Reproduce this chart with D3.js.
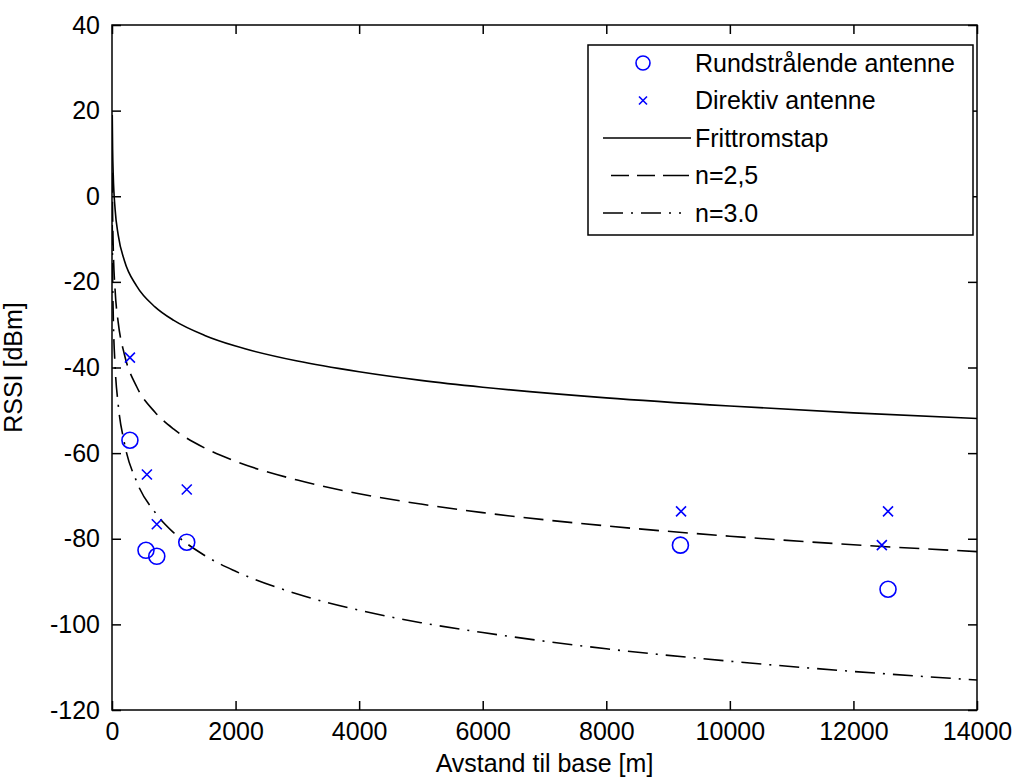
<!DOCTYPE html>
<html>
<head>
<meta charset="utf-8">
<script src="https://cdn.jsdelivr.net/npm/d3@7"></script>
<style>
  body { margin: 0; background: #fff; }
  text { font-family: "Liberation Sans", Arial, sans-serif; fill: #000; }
</style>
</head>
<body>
<div id="chart"></div>
<script>
// distances (m) and read curve values (dBm)
var distances  = [4, 10, 20, 50, 100, 200, 400, 700, 1000, 1500, 2000, 3000, 4000, 5000, 6000, 8000, 10000, 12000, 14000];
var frittrom   = [19, 11, 5, -3, -9, -15, -21, -25.9, -29, -32.5, -35, -38.5, -41, -43, -44.6, -47.1, -49, -50.6, -51.9];
var n25        = [5.5, -4.4, -11.9, -21.9, -29.4, -36.9, -44.5, -50.5, -54.4, -58.8, -61.9, -66.3, -69.5, -71.9, -73.9, -77, -79.4, -81.4, -83];
var n30        = [-6.7, -18.6, -27.6, -39.6, -48.6, -57.6, -66.7, -73.9, -78.6, -83.9, -87.6, -92.9, -96.7, -99.6, -101.9, -105.7, -108.6, -111, -113];

// measurements
var rundX = [290, 550, 725, 1210, 9200, 12560];
var rundY = [-57, -82.7, -84.1, -80.8, -81.5, -91.8];
var dirX  = [290, 565, 725, 1210, 9210, 12560, 12460];
var dirY  = [-37.7, -65, -76.6, -68.5, -73.6, -73.6, -81.5];

var xTicks = [0, 2000, 4000, 6000, 8000, 10000, 12000, 14000];
var yTicks = [-120, -100, -80, -60, -40, -20, 0, 20, 40];

var margin = {top: 25, right: 42, bottom: 70, left: 112},
    width = 1019 - margin.left - margin.right,
    height = 780 - margin.top - margin.bottom;

var svg = d3.select("#chart")
  .append("svg")
    .attr("width", 1019)
    .attr("height", 780)
  .append("g")
    .attr("transform", "translate(" + margin.left + "," + margin.top + ")");

var x = d3.scaleLinear().domain([0, 14000]).range([0, width]);
var y = d3.scaleLinear().domain([-120, 40]).range([height, 0]);

svg.append("clipPath").attr("id", "clip")
  .append("rect").attr("width", width).attr("height", height);

// plain hyphen minus like the original
var fmt = function(d) { return String(d); };

// axes (ticks inside, MATLAB style)
var tk = 9;
svg.append("g")
    .attr("transform", "translate(0," + height + ")")
    .call(d3.axisBottom(x).tickValues(xTicks).tickSizeInner(-tk).tickSizeOuter(0).tickPadding(12).tickFormat(fmt))
    .call(function(g) { g.select(".domain").remove(); });
svg.append("g")
    .call(d3.axisTop(x).tickValues(xTicks).tickSizeInner(-tk).tickSizeOuter(0).tickFormat(""))
    .call(function(g) { g.select(".domain").remove(); });
svg.append("g")
    .call(d3.axisLeft(y).tickValues(yTicks).tickSizeInner(-tk).tickSizeOuter(0).tickPadding(12).tickFormat(fmt))
    .call(function(g) { g.select(".domain").remove(); });
svg.append("g")
    .attr("transform", "translate(" + width + ",0)")
    .call(d3.axisRight(y).tickValues(yTicks).tickSizeInner(-tk).tickSizeOuter(0).tickFormat(""))
    .call(function(g) { g.select(".domain").remove(); });

svg.selectAll(".tick line").attr("stroke", "#000").attr("stroke-width", 1.5);
svg.selectAll(".tick text").style("font-size", "25px");

// curves
var line = d3.line()
  .x(function(d) { return x(d[0]); })
  .y(function(d) { return y(d[1]); })
  .curve(d3.curveMonotoneX);

var curves = [
  {vals: frittrom, dash: null, legendDash: null},
  {vals: n25, dash: "20,9", legendDash: "0,8,18,8,18,8,18"},
  {vals: n30, dash: "20,8,2,8", legendDash: "20,8,2,8,20,8,2,8,2"}
];

svg.append("g").attr("clip-path", "url(#clip)")
  .selectAll("path.curve")
  .data(curves)
  .enter()
  .append("path")
    .attr("class", "curve")
    .attr("d", function(c) { return line(distances.map(function(dd, i) { return [dd, c.vals[i]]; })); })
    .attr("fill", "none")
    .attr("stroke", "#000")
    .attr("stroke-width", 1.6)
    .attr("stroke-dasharray", function(c) { return c.dash; });

// markers
svg.selectAll("circle.rund")
  .data(rundX)
  .enter()
  .append("circle")
    .attr("class", "rund")
    .attr("cx", function(d) { return x(d); })
    .attr("cy", function(d, i) { return y(rundY[i]); })
    .attr("r", 8)
    .attr("fill", "none")
    .attr("stroke", "#0000ff")
    .attr("stroke-width", 1.6);

var cross = function(cx, cy, s) {
  return "M" + (cx - s) + "," + (cy - s) + "L" + (cx + s) + "," + (cy + s) +
         "M" + (cx - s) + "," + (cy + s) + "L" + (cx + s) + "," + (cy - s);
};
svg.selectAll("path.dir")
  .data(dirX)
  .enter()
  .append("path")
    .attr("class", "dir")
    .attr("d", function(d, i) { return cross(x(d), y(dirY[i]), 5); })
    .attr("stroke", "#0000ff")
    .attr("stroke-width", 1.6);

// box
svg.append("rect")
  .attr("width", width).attr("height", height)
  .attr("fill", "none").attr("stroke", "#000").attr("stroke-width", 1.5);

// axis labels
svg.append("text")
  .attr("x", width / 2)
  .attr("y", height + 62)
  .attr("text-anchor", "middle")
  .style("font-size", "25px")
  .text("Avstand til base [m]");

svg.append("text")
  .attr("transform", "translate(" + (-90) + "," + (height / 2) + ") rotate(-90)")
  .attr("text-anchor", "middle")
  .style("font-size", "25px")
  .text("RSSI [dBm]");

// legend
var lg = svg.append("g").attr("transform", "translate(" + (588 - margin.left) + "," + (45 - margin.top) + ")");
lg.append("rect").attr("width", 385).attr("height", 190)
  .attr("fill", "#fff").attr("stroke", "#000").attr("stroke-width", 1.5);

var legendNames = ["Rundstrålende antenne", "Direktiv antenne", "Frittromstap", "n=2,5", "n=3.0"];
var rowY = function(i) { return 18 + i * 37.5; };

lg.selectAll("text.lt")
  .data(legendNames)
  .enter()
  .append("text")
    .attr("class", "lt")
    .attr("x", 107)
    .attr("y", function(d, i) { return rowY(i); })
    .attr("dy", "0.35em")
    .style("font-size", "25px")
    .text(function(d) { return d; });

lg.append("circle").attr("cx", 55).attr("cy", rowY(0)).attr("r", 7)
  .attr("fill", "none").attr("stroke", "#0000ff").attr("stroke-width", 1.6);
lg.append("path").attr("d", cross(55, rowY(1), 4))
  .attr("stroke", "#0000ff").attr("stroke-width", 1.6);

lg.selectAll("line.ll")
  .data(curves)
  .enter()
  .append("line")
    .attr("class", "ll")
    .attr("x1", 15).attr("x2", 103)
    .attr("y1", function(d, i) { return rowY(i + 2); })
    .attr("y2", function(d, i) { return rowY(i + 2); })
    .attr("stroke", "#000")
    .attr("stroke-width", 1.6)
    .attr("stroke-dasharray", function(c) { return c.legendDash; });
</script>
</body>
</html>
